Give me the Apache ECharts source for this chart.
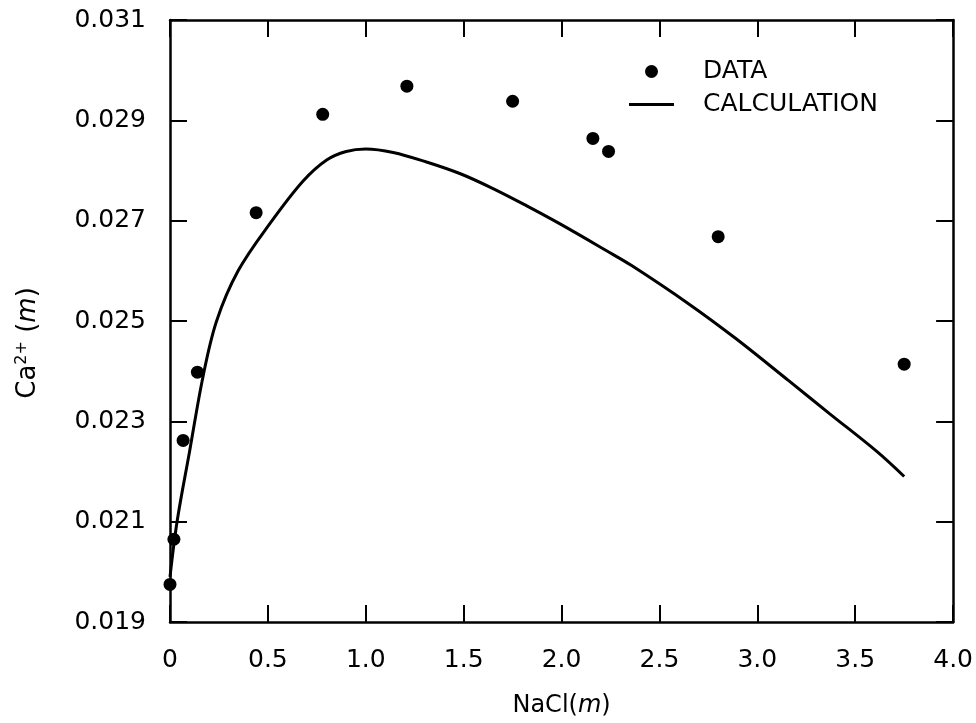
<!DOCTYPE html>
<html>
<head>
<meta charset="utf-8">
<script src="https://cdn.jsdelivr.net/npm/echarts@6/dist/echarts.min.js"></script>
<style>html,body{margin:0;padding:0;background:#fff}#c{width:976px;height:723px}</style>
</head>
<body>
<div id="c"></div>
<script>
const dataX = [0, 0.02, 0.067, 0.14, 0.44, 0.78, 1.21, 1.75, 2.16, 2.24, 2.80, 3.75];
const dataY = [0.01975, 0.02065, 0.02262, 0.02398, 0.02716, 0.02912, 0.02968, 0.02938, 0.02864, 0.02838, 0.02668, 0.02414];
const calcX = [0, 0.036, 0.1, 0.169, 0.238, 0.348, 0.51, 0.68, 0.80, 0.90, 1.00, 1.14, 1.31, 1.48, 1.65, 1.82, 1.99, 2.23, 2.36, 2.65, 2.89, 3.16, 3.37, 3.61, 3.75];
const calcY = [0.0199, 0.021, 0.0224, 0.0239, 0.025, 0.0260, 0.02694, 0.02779, 0.02821, 0.02838, 0.02843, 0.02836, 0.02817, 0.02794, 0.02764, 0.0273, 0.02694, 0.0264, 0.0261, 0.02534, 0.02465, 0.02381, 0.02315, 0.0224, 0.0219];
const xTicks = ['0', '0.5', '1.0', '1.5', '2.0', '2.5', '3.0', '3.5', '4.0'];
const yTicks = ['0.019', '0.021', '0.023', '0.025', '0.027', '0.029', '0.031'];

const FONT = 'DejaVu Sans';
const chart = echarts.init(document.getElementById('c'), null, {renderer: 'canvas'});
const axisLine = {show: true, onZero: false, lineStyle: {color: '#000', width: 2.5}};
const axisTick = {show: true, inside: true, length: 17, lineStyle: {color: '#000', width: 2}};
const commonX = {type: 'value', min: 0, max: 4, interval: 0.5, splitLine: {show: false}, axisLine, axisTick};
const commonY = {type: 'value', min: 0.019, max: 0.031, interval: 0.002, splitLine: {show: false}, axisLine, axisTick};

chart.setOption({
  animation: false,
  backgroundColor: '#fff',
  textStyle: {fontFamily: FONT, color: '#000'},
  grid: {left: 170, right: 22, top: 20, bottom: 101},
  legend: {
    orient: 'vertical', left: 624, top: 54, itemWidth: 45, itemHeight: 13, itemGap: 8,
    textStyle: {fontFamily: FONT, fontSize: 25, color: '#000', padding: [0, 0, 0, 24]},
    data: [
      {name: 'DATA', icon: 'circle'},
      {name: 'CALCULATION', icon: 'path://M0 0H45V3H0Z'}
    ]
  },
  xAxis: [
    Object.assign({}, commonX, {
      position: 'bottom',
      axisLabel: {fontFamily: FONT, fontSize: 25, color: '#000', margin: 26,
        formatter: (v) => xTicks[Math.round(v / 0.5)]},
      name: '{a|NaCl(}{i|m}{a|)}', nameLocation: 'middle', nameGap: 72,
      nameTextStyle: {fontSize: 24, rich: {a: {fontFamily: FONT, fontSize: 24, color: '#000'}, i: {fontFamily: FONT, fontSize: 24, fontStyle: 'italic', color: '#000'}}}
    }),
    Object.assign({}, commonX, {position: 'top', axisLabel: {show: false}})
  ],
  yAxis: [
    Object.assign({}, commonY, {
      position: 'left',
      axisLabel: {fontFamily: FONT, fontSize: 25, color: '#000', margin: 24,
        formatter: (v) => yTicks[Math.round((v - 0.019) / 0.002)]},
      name: '{a|Ca}{s|2+}{a| (}{i|m}{a|)}', nameLocation: 'middle', nameGap: 128,
      nameTextStyle: {fontSize: 26, padding: [0, 44, 0, 0], rich: {
        a: {fontFamily: FONT, fontSize: 26, color: '#000'},
        s: {fontFamily: FONT, fontSize: 16, color: '#000', verticalAlign: 'top', padding: [0, 0, 12, 0]},
        i: {fontFamily: FONT, fontSize: 26, fontStyle: 'italic', color: '#000'}}}
    }),
    Object.assign({}, commonY, {position: 'right', axisLabel: {show: false}})
  ],
  series: [
    {
      name: 'DATA', type: 'scatter', symbol: 'circle', symbolSize: 13,
      itemStyle: {color: '#000', opacity: 1},
      data: dataX.map((x, i) => [x, dataY[i]]), z: 3
    },
    {
      name: 'CALCULATION', type: 'line', showSymbol: false, symbol: 'none',
      smooth: 0.35, lineStyle: {color: '#000', width: 3}, itemStyle: {color: '#000'},
      data: calcX.map((x, i) => [x, calcY[i]])
    }
  ]
});
</script>
</body>
</html>
